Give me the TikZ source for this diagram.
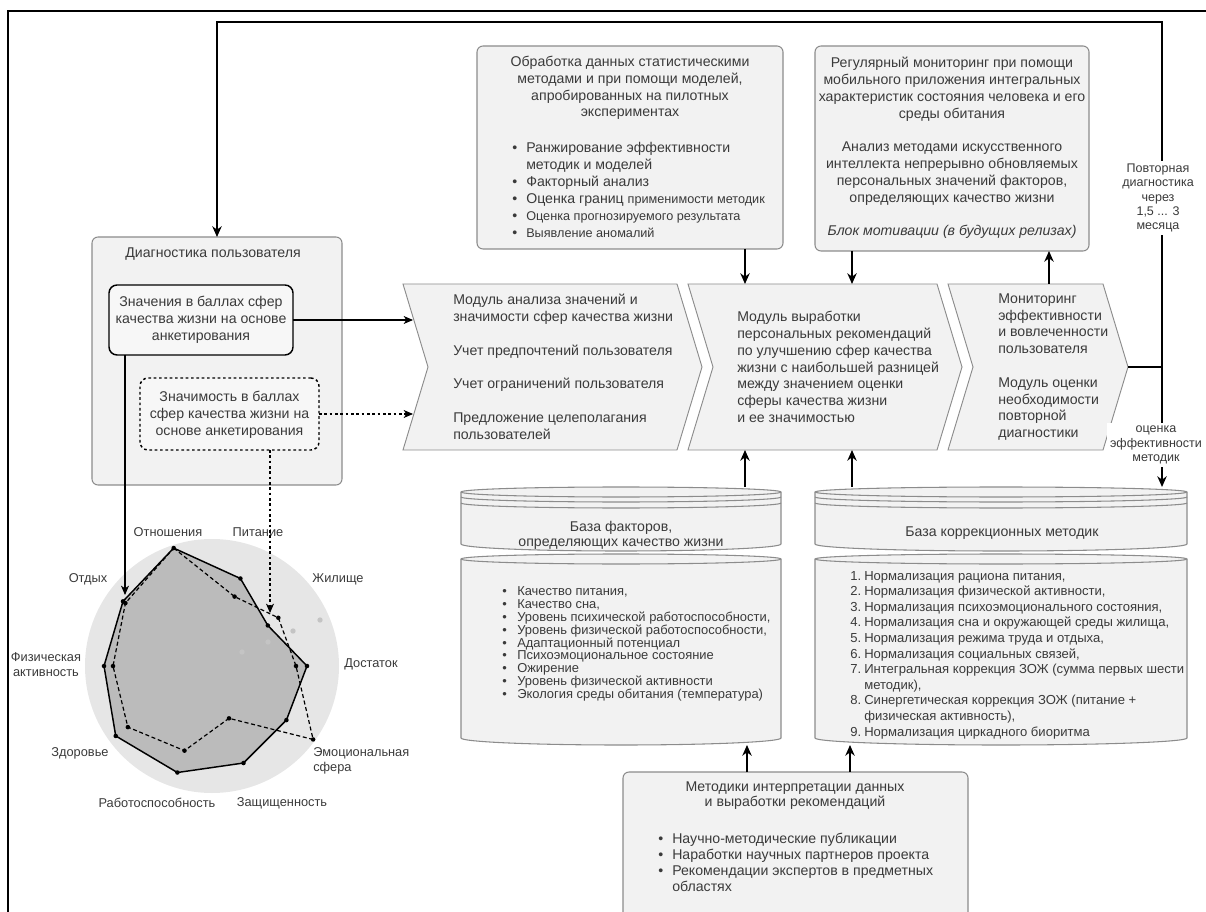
\documentclass[tikz,border=0pt]{standalone}
\usepackage{fontspec}
\setmainfont{Liberation Sans}
\usetikzlibrary{arrows.meta,calc}
\definecolor{txtc}{HTML}{3A3A3A}
\definecolor{boxc}{HTML}{8C8C8C}
\definecolor{boxf}{HTML}{F2F2F2}
\definecolor{innf}{HTML}{F7F7F7}
\definecolor{circf}{HTML}{E6E6E6}
\definecolor{polyf}{HTML}{BBBBBB}
\definecolor{dotf}{HTML}{C4C4C4}
\newcommand\bul{\makebox[10.5pt][l]{\textbullet}}
\newcommand\bulw{\makebox[11.25pt][l]{\textbullet}}
\newcommand\ind{\hspace*{10.5pt}}
\newcommand\nmb[1]{\makebox[10.5pt][l]{#1.}}
\newcommand\fsm{\fontsize{9.5}{12.75}\selectfont}
\newcommand\mybox[6]{\node[#1, anchor=north west, inner sep=0pt, outer sep=0pt, minimum width={(#4-#2)*0.75pt}, minimum height={(#5-#3)*0.75pt}] (#6) at (#2,#3) {};}
\newcommand\mycyl[2]{%
  \filldraw[cylst] (#1,492) -- (#1,544) arc[start angle=180,end angle=360,x radius={(#2-#1)*0.375pt},y radius=5.25pt] -- (#2,492) arc[start angle=0,end angle=180,x radius={(#2-#1)*0.375pt},y radius=3.75pt] -- cycle;
  \draw[cylst,fill=none] (#1,492) arc[start angle=180,end angle=360,x radius={(#2-#1)*0.375pt},y radius=3.75pt];
  \draw[cylst,fill=none] (#1,497) arc[start angle=180,end angle=360,x radius={(#2-#1)*0.375pt},y radius=3.75pt];
  \draw[cylst,fill=none] (#1,503) arc[start angle=180,end angle=360,x radius={(#2-#1)*0.375pt},y radius=3.75pt];
  \filldraw[cylst] (#1,559) -- (#1,738) arc[start angle=180,end angle=360,x radius={(#2-#1)*0.375pt},y radius=5.25pt] -- (#2,559) arc[start angle=0,end angle=180,x radius={(#2-#1)*0.375pt},y radius=3.75pt] -- cycle;
  \draw[cylst,fill=none] (#1,559) arc[start angle=180,end angle=360,x radius={(#2-#1)*0.375pt},y radius=3.75pt];
}
\tikzset{
  txt/.style={text=txtc, inner sep=0pt, align=left, font=\fontsize{10.6}{12.6}\selectfont},
  ctxt/.style={txt, align=center},
  boxst/.style={draw=boxc, fill=boxf, line width=0.8pt, rounded corners=4.5pt},
  inbox/.style={draw=black, fill=innf, line width=1.1pt, rounded corners=6pt},
  dotbox/.style={draw=black, fill=innf, line width=1.1pt, rounded corners=6pt, dash pattern=on 2pt off 2pt},
  chevst/.style={draw=boxc, fill=boxf, line width=0.7pt},
  cylst/.style={draw=boxc, fill=boxf, line width=0.8pt},
  ghost/.style={inner sep=0pt, outer sep=0pt},
  arr/.style={-{Stealth[length=8pt,width=7pt,inset=2.5pt]}, line width=1.5pt},
  tarr/.style={-{Stealth[length=7pt,width=6pt,inset=2pt]}, line width=0.8pt},
  darr/.style={tarr, dash pattern=on 2pt off 2pt},
  lbl/.style={text=txtc, inner sep=0pt, align=center, font=\fontsize{9.4}{10.7}\selectfont},
  rl/.style={text=txtc, inner sep=0pt, align=center, font=\fontsize{9.6}{11.2}\selectfont},
}
\begin{document}
\begin{tikzpicture}[x=0.75pt,y=-0.75pt]
\useasboundingbox (0,0) rectangle (1206,912);
% frame
\draw[line width=1pt] (1240,11) -- (8,11) -- (8,940);
% boxes
\mybox{boxst}{477}{46}{783}{249}{tm}
\mybox{boxst}{815}{46}{1089}{251}{tr}
\mybox{boxst}{92}{237}{342}{485}{diag}
\mybox{inbox}{109}{285}{293}{355}{b1}
\mybox{dotbox}{140}{378}{319}{450}{b2}
\mybox{boxst}{623}{772}{968}{950}{met}
% chevrons
\filldraw[chevst] (403,284) -- (677,284) -- (702,367) -- (677,450) -- (403,450) -- (428,367) -- cycle;
\filldraw[chevst] (688,284) -- (937,284) -- (962,367) -- (937,450) -- (688,450) -- (713,367) -- cycle;
\filldraw[chevst] (948,284) -- (1103,284) -- (1128,367) -- (1103,450) -- (948,450) -- (973,367) -- cycle;
\mybox{ghost}{403}{284}{702}{450}{chA}
\mybox{ghost}{688}{284}{962}{450}{chB}
\mybox{ghost}{948}{284}{1128}{450}{chC}
% cylinders
\mycyl{461}{781}
\mycyl{815}{1187}
\mybox{ghost}{461}{487}{781}{745}{cyA}
\mybox{ghost}{815}{487}{1187}{745}{cyB}
% texts
\node[ctxt] (ttm) at (630,88) {Обработка данных статистическими\\методами и при помощи моделей,\\апробированных на пилотных\\экспериментах};
\node[txt, anchor=west, font=\fontsize{10.6}{12.75}\selectfont] (ttml) at (512,189.5) {\bul Ранжирование эффективности\\\ind методик и моделей\\\bul Факторный анализ\\\bul Оценка границ {\fsm применимости методик}\\\bul {\fsm Оценка прогнозируемого результата}\\\bul {\fsm Выявление аномалий}};
\node[ctxt] (ttr) at (952,148) {Регулярный мониторинг при помощи\\мобильного приложения интегральных\\характеристик состояния человека и его\\среды обитания\\[12.6pt]Анализ методами искусственного\\интеллекта непрерывно обновляемых\\персональных значений факторов,\\определяющих качество жизни\\[12.6pt]\textit{Блок мотивации (в будущих релизах)}};
\node[txt] (tdg) at (213,254) {Диагностика пользователя};
\node[ctxt] (tb1) at (201,320) {Значения в баллах сфер\\качества жизни на основе\\анкетирования};
\node[ctxt] (tb2) at (229.5,415) {Значимость в баллах\\сфер качества жизни на\\основе анкетирования};
\node[txt, anchor=west] (tA) at (453,367) {Модуль анализа значений и\\значимости сфер качества жизни\\[12.6pt]Учет предпочтений пользователя\\[12.6pt]Учет ограничений пользователя\\[12.6pt]Предложение целеполагания\\пользователей};
\node[txt, anchor=west] (tB) at (737,367) {Модуль выработки\\персональных рекомендаций\\по улучшению сфер качества\\жизни с наибольшей разницей\\между значением оценки\\сферы качества жизни\\и ее значимостью};
\node[txt, anchor=west] (tC) at (998,367) {Мониторинг\\эффективности\\и вовлеченности\\пользователя\\[12.6pt]Модуль оценки\\необходимости\\повторной\\диагностики};
\node[ctxt, font=\fontsize{10.6}{11.25}\selectfont] (tcA) at (621,535.5) {База факторов,\\определяющих качество жизни};
\node[txt, anchor=west, font=\fontsize{9.7}{9.6}\selectfont] (tcAl) at (502,644) {\bulw Качество питания,\\\bulw Качество сна,\\\bulw Уровень психической работоспособности,\\\bulw Уровень физической работоспособности,\\\bulw Адаптационный потенциал\\\bulw Психоэмоциональное состояние\\\bulw Ожирение\\\bulw Уровень физической активности\\\bulw Экология среды обитания (температура)};
\node[txt] (tcB) at (1002,533) {База коррекционных методик};
\node[txt, anchor=west, font=\fontsize{9.8}{11.7}\selectfont] (tcBl) at (850,655) {\nmb1Нормализация рациона питания,\\\nmb2Нормализация физической активности,\\\nmb3Нормализация психоэмоционального состояния,\\\nmb4Нормализация сна и окружающей среды жилища,\\\nmb5Нормализация режима труда и отдыха,\\\nmb6Нормализация социальных связей,\\\nmb7Интегральная коррекция ЗОЖ (сумма первых шести\\\ind методик),\\\nmb8Синергетическая коррекция ЗОЖ (питание +\\\ind физическая активность),\\\nmb9Нормализация циркадного биоритма};
\node[ctxt, font=\fontsize{10.6}{11.25}\selectfont] (tmh) at (795,795.5) {Методики интерпретации данных\\и выработки рекомендаций};
\node[txt, anchor=west, font=\fontsize{10.6}{12}\selectfont] (tml) at (658,862) {\bul Научно-методические публикации\\\bul Наработки научных партнеров проекта\\\bul Рекомендации экспертов в предметных\\\ind областях};
% radar
\fill[circf] (212,666) circle[radius=95.25pt];
\begin{scope}[shift={(212,666)}]
\filldraw[fill=polyf, draw=black, line width=1.1pt, line join=round] (-108:124) -- (-72:92) -- (-36:69) -- (0:95) -- (36:92) -- (72:102) -- (108:112) -- (144:119) -- (180:108) -- (-144:110) -- cycle;
\draw[line width=0.9pt, dash pattern=on 3pt off 2pt] (-108:124) -- (-72:73) -- (-36:82) -- (0:84) -- (36:125) -- (72:55) -- (108:89) -- (144:104) -- (180:99) -- (-144:107) -- cycle;
\foreach \a/\r in {-108/124,-72/92,-36/69,0/95,36/92,72/102,108/112,144/119,180/108,-144/110,-72/73,-36/82,0/84,36/125,72/55,108/89,144/104,180/99,-144/107}
  \fill (\a:\r) circle[radius=1.7pt];
\end{scope}
\foreach \p in {(320,620),(293,631),(268,642),(242,652)} \fill[dotf] \p circle[radius=2pt];
\node[rl] (lOt) at (168,532) {Отношения};
\node[rl] (lPi) at (258,532) {Питание};
\node[rl] (lZh) at (338,579) {Жилище};
\node[rl] (lDo) at (371,664) {Достаток};
\node[rl, anchor=west, align=left] (lEm) at (313,760.5) {Эмоциональная\\сфера};
\node[rl] (lZa) at (282,803) {Защищенность};
\node[rl] (lRa) at (157,803) {Работоспособность};
\node[rl] (lZd) at (80,753) {Здоровье};
\node[rl] (lFi) at (46,664.5) {Физическая\\активность};
\node[rl] (lOd) at (88,579) {Отдых};
% connectors
\coordinate (xa) at (745,0);
\coordinate (xb) at (852,0);
\coordinate (xc) at (1049,0);
\coordinate (xe) at (747,0);
\coordinate (xf) at (850,0);
\coordinate (ea) at (413,0);
\coordinate (xg) at (125,595);
\coordinate (xh) at (270,613);
\coordinate (jn) at (1162,367);
\coordinate (ytop) at (0,22);
\draw[arr] (xa |- tm.south) -- (xa |- chB.north);
\draw[arr] (xb |- tr.south) -- (xb |- chB.north);
\draw[arr] (xc |- chC.north) -- (xc |- tr.south);
\draw[arr] (xa |- cyA.north) -- (xa |- chB.south);
\draw[arr] (xb |- cyB.north) -- (xb |- chB.south);
\draw[arr] (xe |- met.north) -- (xe |- cyA.south);
\draw[arr] (xf |- met.north) -- (xf |- cyB.south);
\draw[line width=1.5pt] (chC.east) -- (jn);
\draw[arr] (jn) -- (jn |- ytop) -| (diag.north);
\node[lbl, fill=white, inner sep=2pt] (lrep) at (1158,198) {Повторная\\диагностика\\через\\1,5 ... 3\\месяца};
\draw[arr] (jn) -- (jn |- cyB.north);
\node[lbl, fill=white, inner sep=2pt] (lev) at (1156,445) {оценка\\эффективности\\методик};
\draw[tarr] (b1.east) -- (b1.east -| ea);
\draw[darr] (b2.east) -- (b2.east -| ea);
\draw[tarr] (b1.south -| xg) -- (xg);
\draw[darr] (b2.south -| xh) -- (xh);
\end{tikzpicture}
\end{document}
